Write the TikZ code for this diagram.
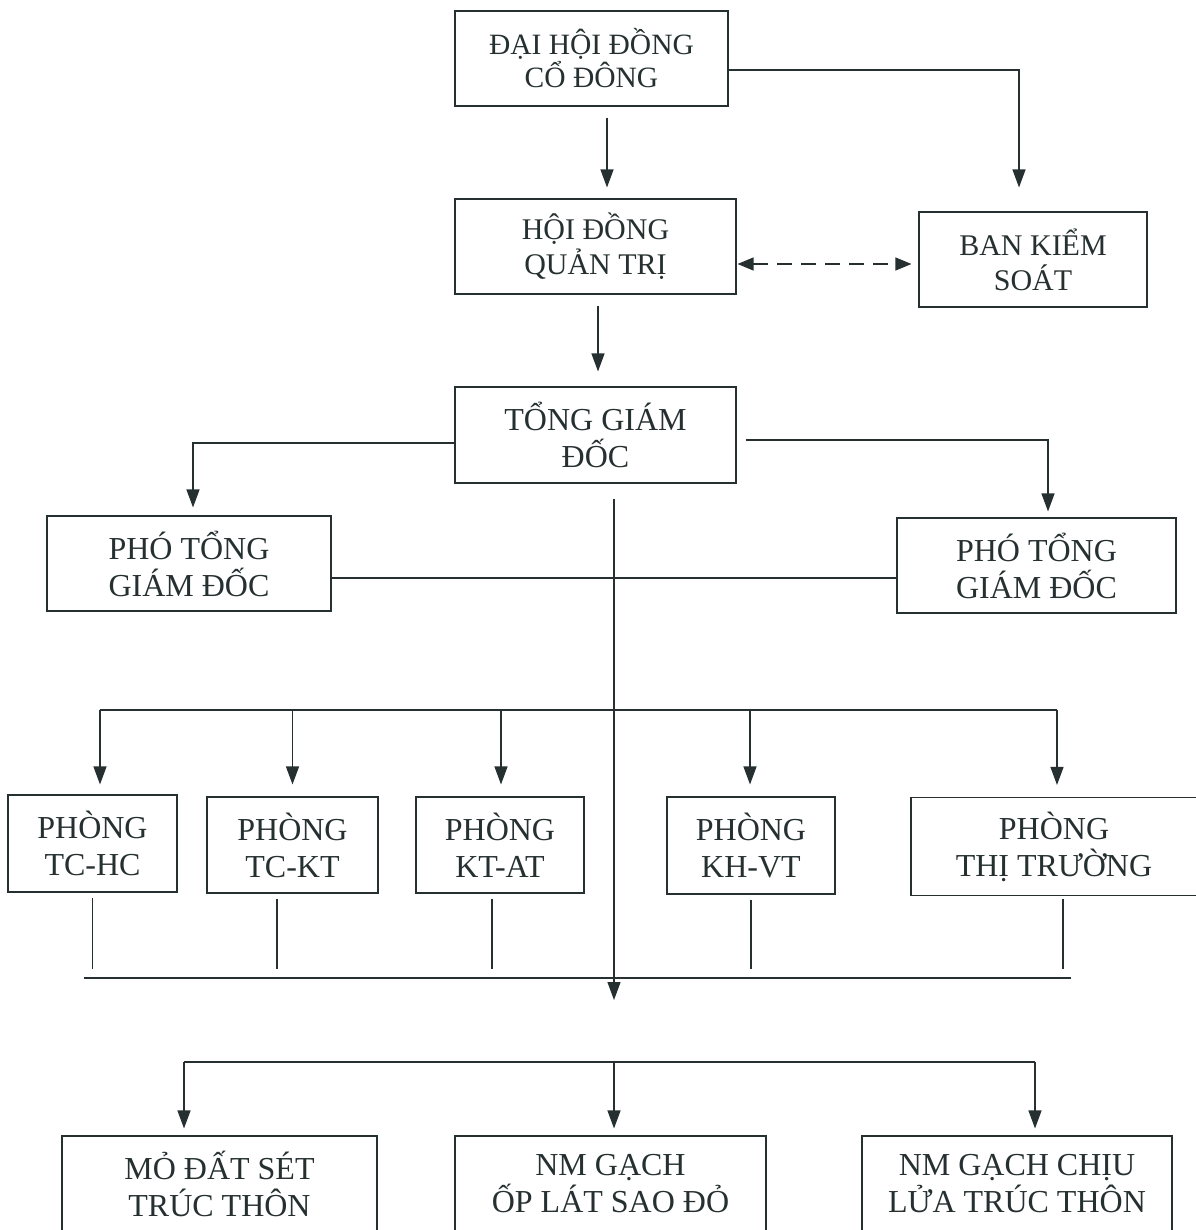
\documentclass[tikz,border=0pt]{standalone}
\usepackage{fontspec}
\setmainfont{Liberation Serif}
\usetikzlibrary{arrows.meta}
\definecolor{ink}{RGB}{38,48,48}
\begin{document}
\begin{tikzpicture}[x=1pt,y=-1pt,
  box/.style={draw=ink, line width=1.1pt, rectangle, align=center, inner sep=0pt,
    font=\fontsize{32}{37}\selectfont, text=ink},
  arr/.style={draw=ink, line width=1.2pt, -{Triangle[length=18pt,width=13pt]}},
  darr/.style={draw=ink, line width=1.2pt, dash pattern=on 15pt off 9pt,
    {Triangle[length=16pt,width=13pt]}-{Triangle[length=16pt,width=13pt]}},
  ln/.style={draw=ink, line width=1.2pt}]
\useasboundingbox (0,0) rectangle (1195,1230);
\fill[white] (0,0) rectangle (1195,1230);

% top levels
\node[box, minimum width=273pt, minimum height=95pt, font=\fontsize{29.5}{33}\selectfont] (dh) at (591.5,58.5) {ĐẠI HỘI ĐỒNG\\CỔ ĐÔNG};
\node[box, minimum width=281pt, minimum height=95pt, font=\fontsize{30}{35}\selectfont] (hd) at (595.5,246.5) {HỘI ĐỒNG\\QUẢN TRỊ};
\node[box, minimum width=228pt, minimum height=95pt, font=\fontsize{30}{35}\selectfont] (bks) at (1033,259.5) {BAN KIỂM\\SOÁT};
\node[box, minimum width=281pt, minimum height=96pt] (tgd) at (595.5,435) {TỔNG GIÁM\\ĐỐC};
\node[box, minimum width=284pt, minimum height=95pt] (ptl) at (189,563.5) {PHÓ TỔNG\\GIÁM ĐỐC};
\node[box, minimum width=279pt, minimum height=95pt] (ptr) at (1036.5,565.5) {PHÓ TỔNG\\GIÁM ĐỐC};

% departments
\node[box, minimum width=169pt, minimum height=97pt] (p1) at (92.5,843.5) {PHÒNG\\TC-HC};
\node[box, minimum width=171pt, minimum height=96pt] (p2) at (292.5,845) {PHÒNG\\TC-KT};
\node[box, minimum width=168pt, minimum height=96pt] (p3) at (500,845) {PHÒNG\\KT-AT};
\node[box, minimum width=168pt, minimum height=97pt] (p4) at (751,845.5) {PHÒNG\\KH-VT};
\node[box, minimum width=286pt, minimum height=98pt] (p5) at (1054,846.5) {PHÒNG\\THỊ TRƯỜNG};

% factories
\node[box, minimum width=315pt, minimum height=96pt] (b1) at (219.5,1184) {MỎ ĐẤT SÉT\\TRÚC THÔN};
\node[box, minimum width=311pt, minimum height=96pt] (b2) at (610.5,1184) {NM GẠCH\\ỐP LÁT SAO ĐỎ};
\node[box, minimum width=310pt, minimum height=96pt] (b3) at (1017,1184) {NM GẠCH CHỊU\\LỬA TRÚC THÔN};

% helper coordinates
\coordinate (trunkend) at (614,1000);
\coordinate (tb1) at (100,710);
\coordinate (tb2) at (292.5,710);
\coordinate (tb3) at (501,710);
\coordinate (tb4) at (750,710);
\coordinate (tb5) at (1057,710);
\coordinate (lbL) at (84,978);
\coordinate (lbR) at (1071,978);
\coordinate (q1) at (92.5,978);
\coordinate (q2) at (277,978);
\coordinate (q3) at (492,978);
\coordinate (q4) at (751,978);
\coordinate (q5) at (1063,978);
\coordinate (bbL) at (184,1062);
\coordinate (bbM) at (614,1062);
\coordinate (bbR) at (1035,1062);

% connectors top
\draw[arr] ([xshift=15.5pt,yshift=-11pt]dh.south) -- ([xshift=11.5pt,yshift=11pt]hd.north);
\draw[arr] ([yshift=-11.5pt]dh.east) -| ([xshift=-14pt,yshift=24pt]bks.north);
\draw[darr] ([xshift=1pt,yshift=-17.5pt]hd.east) -- ([xshift=-7pt,yshift=-4.5pt]bks.west);
\draw[arr] ([xshift=2.5pt,yshift=-11pt]hd.south) -- ([xshift=2.5pt,yshift=15pt]tgd.north);
\draw[arr] ([yshift=-8pt]tgd.west) -| ([xshift=4pt,yshift=8pt]ptl.north);
\draw[arr] ([xshift=9pt,yshift=-5pt]tgd.east) -| ([xshift=11.5pt,yshift=6pt]ptr.north);
\draw[ln] ([yshift=-14.5pt]ptl.east) -- ([yshift=-12.5pt]ptr.west);
\draw[arr] ([xshift=18.5pt,yshift=-15pt]tgd.south) -- (trunkend);

% department bus
\draw[ln] (tb1) -- (tb5);
\draw[arr] (tb1) -- ([xshift=7.5pt,yshift=10pt]p1.north);
\draw[arr] (tb2) -- ([yshift=12pt]p2.north);
\draw[arr] (tb3) -- ([xshift=1pt,yshift=12pt]p3.north);
\draw[arr] (tb4) -- ([xshift=-1pt,yshift=12pt]p4.north);
\draw[arr] (tb5) -- ([xshift=3pt,yshift=12pt]p5.north);

% lower bus
\draw[ln, shorten <=5pt, shorten >=9pt] (p1.south) -- (q1);
\draw[ln, shorten <=5pt, shorten >=9pt] ([xshift=-15.5pt]p2.south) -- (q2);
\draw[ln, shorten <=5pt, shorten >=9pt] ([xshift=-8pt]p3.south) -- (q3);
\draw[ln, shorten <=5pt, shorten >=9pt] (p4.south) -- (q4);
\draw[ln, shorten <=3pt, shorten >=9pt] ([xshift=9pt]p5.south) -- (q5);
\draw[ln] (lbL) -- (lbR);

% factory bus
\draw[ln] (bbL) -- (bbR);
\draw[arr] (bbL) -- ([xshift=-35.5pt,yshift=7pt]b1.north);
\draw[arr] (bbM) -- ([xshift=3.5pt,yshift=7pt]b2.north);
\draw[arr] (bbR) -- ([xshift=18pt,yshift=7pt]b3.north);
\end{tikzpicture}
\end{document}
